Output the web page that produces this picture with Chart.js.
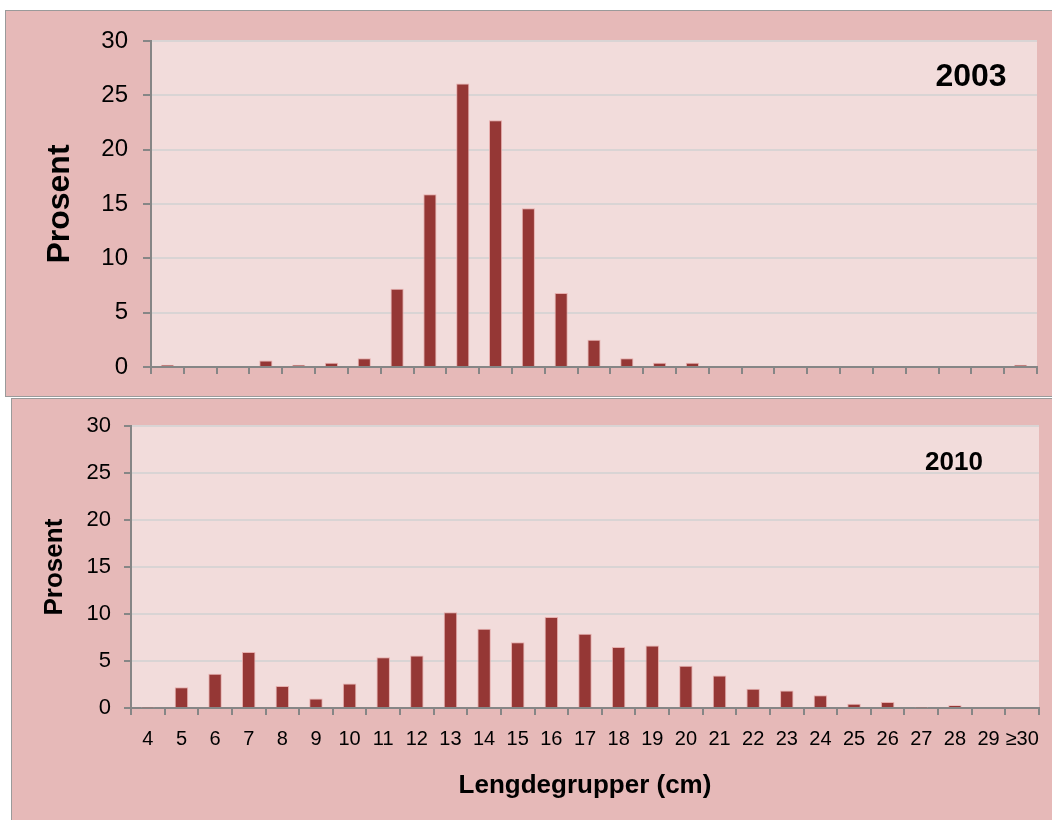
<!DOCTYPE html>
<html>
<head>
<meta charset="utf-8">
<script src="https://cdn.jsdelivr.net/npm/chart.js@4.4.1/dist/chart.umd.min.js"></script>
<style>
  html, body { margin: 0; padding: 0; background: #fff; overflow: hidden; }
  body { width: 1052px; height: 820px; position: relative; }
  .panel { position: absolute; background: #E6B9B8; border: 1px solid #9a9a9a; box-sizing: border-box; }
  #p1 { left: 5px; top: 10px; width: 1070px; height: 387px; }
  #p2 { left: 11px; top: 398px; width: 1070px; height: 440px; }
  canvas { position: absolute; left: 0; }
  #top { top: 0; }
  #bottom { top: 400px; }
</style>
</head>
<body>
<div class="panel" id="p1"></div>
<div class="panel" id="p2"></div>
<canvas id="top" width="1052" height="400"></canvas>
<canvas id="bottom" width="1052" height="420"></canvas>
<script>
const lengthGroups = ['4','5','6','7','8','9','10','11','12','13','14','15','16','17','18','19','20','21','22','23','24','25','26','27','28','29','≥30'];
const pct2003 = [0.2, 0, 0, 0.6, 0.2, 0.4, 0.8, 7.2, 15.9, 26.1, 22.7, 14.6, 6.8, 2.5, 0.8, 0.4, 0.4, 0, 0, 0, 0, 0, 0, 0, 0, 0, 0.2];
const pct2010 = [0.05, 2.2, 3.65, 5.95, 2.35, 1.0, 2.6, 5.4, 5.6, 10.2, 8.45, 7.0, 9.7, 7.9, 6.5, 6.65, 4.5, 3.45, 2.05, 1.85, 1.35, 0.45, 0.65, 0.05, 0.3, 0, 0];
const yMax = 30;
const yStep = 5;

const FONT = "'Liberation Sans', Arial, sans-serif";
const BAR = '#953735';
const AXIS = '#868686';

// fills the plot area and writes the year label
const plotBg = {
  id: 'plotBg',
  beforeDraw(chart, args, opts) {
    const { ctx, chartArea: a } = chart;
    ctx.save();
    ctx.fillStyle = '#F2DCDB';
    ctx.fillRect(a.left, a.top, a.right - a.left, a.bottom - a.top);
    ctx.restore();
  },
  afterDraw(chart, args, opts) {
    const { ctx, chartArea: a } = chart;
    ctx.save();
    ctx.font = 'bold ' + opts.size + 'px ' + FONT;
    ctx.fillStyle = '#000';
    ctx.textAlign = 'center';
    ctx.textBaseline = 'middle';
    ctx.fillText(opts.text, a.right - opts.dx, a.top + opts.dy);
    ctx.restore();
  }
};

function makeChart(id, values, cfg) {
  return new Chart(document.getElementById(id), {
    type: 'bar',
    data: {
      labels: lengthGroups,
      datasets: [{
        data: values,
        backgroundColor: BAR,
        borderColor: 'rgba(230,170,168,0.9)',
        borderWidth: 1,
        barPercentage: 0.4,
        categoryPercentage: 1.0
      }]
    },
    options: {
      responsive: false,
      animation: false,
      layout: { padding: { top: cfg.padTop, right: cfg.padRight, left: 0, bottom: 0 } },
      plugins: {
        legend: { display: false },
        tooltip: { enabled: false },
        plotBg: { text: cfg.year, size: cfg.yearSize, dx: cfg.yearDx, dy: cfg.yearDy }
      },
      scales: {
        x: {
          afterFit(s) { s.height = cfg.xHeight; },
          grid: { drawOnChartArea: false, color: AXIS, lineWidth: 2, tickLength: 7 },
          border: { color: AXIS, width: 2 },
          ticks: { display: cfg.xLabels, color: '#000', font: { family: FONT, size: 20 }, padding: 12, maxRotation: 0, autoSkip: false },
          title: {
            display: cfg.xLabels,
            text: 'Lengdegrupper (cm)',
            color: '#000',
            font: { family: FONT, size: 26, weight: 'bold' },
            padding: { top: 0, bottom: 19 }
          }
        },
        y: {
          min: 0,
          max: yMax,
          afterFit(s) { s.width = cfg.yWidth; },
          grid: {
            color: c => (c.tick && c.tick.value === 0) ? 'rgba(0,0,0,0)' : '#d9d4d4',
            lineWidth: 2,
            tickColor: AXIS,
            tickLength: cfg.yTick
          },
          border: { color: AXIS, width: 2 },
          ticks: { stepSize: yStep, color: '#000', font: { family: FONT, size: cfg.yFont }, padding: cfg.yPad },
          title: {
            display: true,
            text: 'Prosent',
            color: '#000',
            font: { family: FONT, size: cfg.titleSize, weight: 'bold' },
            padding: { top: cfg.titlePad, bottom: 0 }
          }
        }
      }
    },
    plugins: [plotBg]
  });
}

makeChart('top', pct2003, {
  padTop: 41, padRight: 15, yWidth: 151, xHeight: 33, xLabels: false,
  yFont: 24, yPad: 15, yTick: 8, titleSize: 32, titlePad: 41,
  year: '2003', yearSize: 32, yearDx: 66, yearDy: 36
});

makeChart('bottom', pct2010, {
  padTop: 22, padRight: 13, yWidth: 131, xHeight: 112, xLabels: true,
  yFont: 22, yPad: 13, yTick: 7, titleSize: 26, titlePad: 39,
  year: '2010', yearSize: 26, yearDx: 85, yearDy: 37
});
</script>
</body>
</html>
